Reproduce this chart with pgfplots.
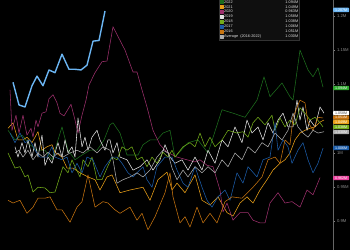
\documentclass[border=0pt]{standalone}
\usepackage{fontspec}
\setmainfont{Liberation Sans}
\usepackage{pgfplots}
\pgfplotsset{compat=1.18}
\definecolor{c23}{HTML}{6BB5F2}
\definecolor{c22}{HTML}{1D6E1D}
\definecolor{c21}{HTML}{EAA018}
\definecolor{c20}{HTML}{9E306D}
\definecolor{c20b}{HTML}{E8409C}
\definecolor{c19}{HTML}{E4E4E4}
\definecolor{c18}{HTML}{74AE1A}
\definecolor{c17}{HTML}{1C5CA8}
\definecolor{c16}{HTML}{C8740F}
\definecolor{cavg}{HTML}{ADADAD}
\definecolor{c22b}{HTML}{2EA82E}
\tikzset{valbox/.style={anchor=west, font=\fontsize{3.6}{4}\selectfont, inner sep=0.4pt,
    minimum height=4.4pt, minimum width=16pt, rounded corners=0.8pt}}
\begin{document}
\begin{tikzpicture}
\useasboundingbox (0,0) rectangle (350pt,250pt);
\fill[black] (0,0) rectangle (350pt,250pt);
\clip (0,0) rectangle (350pt,250pt);
\begin{axis}[at={(0pt,0pt)}, anchor=south west, scale only axis,
  width=333pt, height=250pt,
  xmin=0, xmax=333, ymin=0.8585, ymax=1.223,
  axis x line=none, xtick=\empty,
  axis y line*=right,
  y axis line style={draw=black!60!white, line width=0.5pt},
  ytick={0.9,0.95,1,1.1,1.15,1.2},
  yticklabels={0.9M,0.95M,1M,1.1M,1.15M,1.2M},
  yticklabel style={font=\fontsize{4.2}{5}\selectfont, text=black!45!white, xshift=-1.5pt},
  tick align=outside, major tick length=2pt,
  tick style={draw=black!50!white, line width=0.4pt},
  clip=false,
  legend style={at={(0.6577,0.84)}, anchor=south west,
    fill=black!94!white, draw=black!80!white, line width=0.3pt,
    font=\fontsize{3.8}{4.4}\selectfont, text=white!88!black,
    row sep=0.2pt, inner sep=1pt,
    nodes={inner sep=0.45pt, text height=2.9pt, text depth=0.9pt}},
  legend cell align=left,
  legend image code/.code={\fill[#1] (0pt,-1.5pt) rectangle (3pt,1.5pt);},
  every axis plot/.append style={line width=0.55pt, line join=round, mark=none},
]
% 2022
\addplot[color=c22] coordinates {(8,1.033)(15,1.019)(22,1.026)(30,1.012)(37,1.004)(45,1.004)(52,0.990)(58,1.019)(62,1.038)(68,1.004)(75,0.990)(82,0.997)(90,1.004)(97,1.004)(104,1.019)(110,1.041)(113,1.044)(120,1.029)(127,0.997)(138,0.997)(143,1.012)(150,1.019)(157,1.019)(163,1.029)(170,1.033)(175,0.994)(188,1.015)(198,1.019)(208,1.000)(222,1.063)(233,1.058)(245,1.052)(257,1.077)(264,1.111)(270,1.082)(282,1.102)(290,1.082)(293,1.077)(300,1.150)(308,1.121)(313,1.111)(318,1.124)(323,1.096)};
\addlegendentry{\makebox[56pt][l]{2022}\makebox[18pt][r]{1.094M}}
% 2021
\addplot[color=c21] coordinates {(8,1.036)(13,1.044)(18,1.019)(23,1.019)(27,1.023)(32,1.015)(38,1.031)(42,1.004)(47,1.009)(52,1.012)(55,1.001)(62,0.994)(67,0.978)(73,0.978)(80,0.971)(88,0.965)(95,0.961)(100,0.946)(107,0.965)(112,0.968)(120,0.942)(130,0.946)(143,0.950)(150,0.931)(158,0.961)(167,0.972)(172,0.946)(177,0.956)(185,0.942)(195,0.968)(202,0.931)(210,0.924)(218,0.936)(227,0.913)(233,0.908)(240,0.927)(247,0.936)(253,0.927)(260,0.946)(267,0.961)(273,0.975)(280,0.985)(285,0.990)(290,1.000)(295,1.019)(300,1.029)(305,1.033)(310,1.036)(315,1.038)(320,1.045)(324,1.048)};
\addlegendentry{\makebox[56pt][l]{2021}\makebox[18pt][r]{1.049M}}
% 2020
\addplot[color=c20] coordinates {(10,1.092)(12,1.033)(16,1.055)(19,1.029)(23,1.055)(27,1.026)(31,1.036)(33,1.023)(36,1.048)(38,1.038)(42,1.058)(46,1.060)(49,1.079)(53,1.085)(57,1.073)(60,1.058)(64,1.054)(71,1.071)(75,1.048)(78,1.029)(82,1.055)(86,1.077)(89,1.099)(95,1.117)(102,1.133)(107,1.134)(113,1.184)(125,1.150)(133,1.118)(137,1.118)(142,1.092)(147,1.067)(153,1.033)(160,1.012)(167,1.001)(177,0.994)(187,0.990)(195,0.987)(200,0.990)(207,0.982)(213,0.980)(220,0.946)(223,0.914)(227,0.927)(233,0.902)(240,0.913)(248,0.913)(253,0.902)(260,0.898)(265,0.898)(270,0.927)(278,0.942)(285,0.927)(292,0.929)(300,0.921)(307,0.946)(313,0.939)(320,0.964)};
\addlegendentry{\makebox[56pt][l]{2020}\makebox[18pt][r]{0.963M}}
% 2019
\addplot[color=c19] coordinates {(15,1.009)(18,0.994)(22,1.015)(25,1.000)(28,1.019)(32,0.994)(35,1.015)(38,0.994)(42,1.026)(45,0.982)(48,0.994)(52,0.985)(55,1.000)(58,1.015)(62,0.994)(65,1.019)(68,1.000)(72,1.009)(75,0.994)(78,1.051)(82,1.009)(85,1.023)(88,1.004)(92,1.023)(97,1.033)(100,1.019)(105,1.004)(108,1.019)(110,1.019)(113,1.000)(117,1.015)(120,0.994)(127,0.990)(133,0.975)(140,0.980)(147,0.990)(153,0.975)(160,0.990)(165,1.012)(170,0.994)(175,0.985)(182,0.990)(188,0.975)(195,0.994)(202,0.975)(208,1.004)(215,0.985)(222,1.019)(228,1.009)(235,1.038)(242,1.015)(247,1.048)(252,1.029)(258,1.038)(263,1.019)(268,1.044)(273,1.029)(278,1.048)(283,1.058)(288,1.038)(293,1.038)(297,1.077)(300,1.048)(303,1.067)(307,1.033)(310,1.048)(315,1.038)(320,1.067)(324,1.058)};
\addlegendentry{\makebox[56pt][l]{2019}\makebox[18pt][r]{1.058M}}
% 2018
\addplot[color=c18] coordinates {(8,1.000)(15,0.978)(20,0.980)(25,0.965)(28,0.968)(33,0.943)(38,0.950)(45,0.949)(50,0.942)(55,0.943)(63,0.980)(68,0.971)(72,0.990)(75,0.980)(80,0.965)(83,0.990)(88,0.980)(92,0.994)(97,0.961)(102,0.961)(107,0.978)(112,0.994)(117,0.990)(122,1.009)(127,1.004)(132,1.009)(137,0.990)(142,0.994)(147,0.980)(152,0.994)(157,0.985)(163,1.001)(168,0.994)(172,1.004)(175,0.994)(183,1.009)(190,1.015)(195,1.009)(200,1.029)(205,1.009)(210,1.023)(215,1.009)(222,1.019)(228,1.033)(237,1.029)(243,1.031)(248,1.023)(253,1.044)(258,1.052)(265,1.041)(272,1.055)(275,1.033)(280,1.051)(285,1.038)(290,1.048)(295,1.041)(300,1.066)(305,1.058)(310,1.048)(315,1.052)(320,1.044)(323,1.038)};
\addlegendentry{\makebox[56pt][l]{2018}\makebox[18pt][r]{1.038M}}
% 2017
\addplot[color=c17] coordinates {(10,1.029)(15,1.015)(20,1.029)(25,1.015)(30,1.019)(35,1.004)(40,0.994)(47,0.994)(52,1.009)(55,0.994)(62,0.990)(67,0.994)(72,0.971)(77,0.985)(82,0.971)(87,0.994)(93,0.990)(100,0.965)(105,0.980)(112,0.994)(117,0.994)(122,0.985)(128,0.971)(133,0.965)(143,0.980)(147,0.961)(152,0.950)(157,0.980)(165,0.994)(172,0.994)(177,0.975)(183,0.956)(188,0.950)(195,0.980)(202,0.950)(207,0.931)(212,0.921)(218,0.936)(225,0.946)(230,0.931)(237,0.971)(243,0.956)(248,0.980)(257,0.965)(263,0.990)(270,0.994)(275,1.044)(278,1.004)(283,1.019)(288,1.009)(292,0.985)(298,1.004)(303,1.015)(308,0.990)(313,0.971)(318,0.985)(323,1.007)};
\addlegendentry{\makebox[56pt][l]{2017}\makebox[18pt][r]{1.006M}}
% 2016
\addplot[color=c16] coordinates {(8,0.931)(13,0.927)(20,0.931)(27,0.912)(33,0.921)(38,0.934)(45,0.934)(50,0.936)(57,0.917)(62,0.917)(70,0.899)(77,0.921)(82,0.929)(88,0.968)(95,0.921)(103,0.929)(108,0.927)(115,0.917)(120,0.912)(130,0.921)(137,0.902)(142,0.912)(148,0.888)(155,0.907)(165,0.942)(170,0.971)(173,0.936)(180,0.898)(185,0.907)(190,0.892)(197,0.921)(203,0.898)(210,0.912)(217,0.898)(225,0.929)(232,0.936)(242,0.934)(253,0.950)(262,0.965)(268,0.990)(275,0.994)(280,0.985)(285,1.019)(290,1.012)(293,1.052)(300,1.077)(305,1.073)(308,1.045)(313,1.033)(318,1.052)(323,1.051)};
\addlegendentry{\makebox[56pt][l]{2016}\makebox[18pt][r]{1.051M}}
% Average
\addplot[color=cavg] coordinates {(15,1.000)(19,1.004)(23,0.994)(28,1.004)(33,0.990)(38,1.000)(43,0.994)(48,1.001)(53,0.994)(58,1.000)(63,0.994)(70,1.000)(77,1.004)(83,1.000)(90,1.009)(97,1.000)(103,1.009)(110,1.004)(113,0.990)(117,0.956)(123,0.961)(130,0.965)(137,0.971)(143,0.965)(150,0.975)(157,0.994)(163,1.004)(168,1.000)(172,0.978)(177,0.961)(183,0.975)(188,0.965)(195,0.980)(202,0.971)(208,0.980)(215,0.971)(222,0.990)(228,0.980)(235,1.000)(242,0.990)(248,1.009)(255,1.000)(262,1.015)(268,1.009)(275,1.029)(282,1.019)(288,1.033)(293,1.058)(298,1.038)(303,1.029)(308,1.023)(313,1.033)(318,1.029)(324,1.031)};
\addlegendentry{\makebox[56pt][l]{Average \ (2016-2022)}\makebox[18pt][r]{1.030M}}
% 2023
\addplot[color=c23, line width=1.4pt, forget plot] coordinates {(13,1.103)(19,1.070)(25,1.067)(32,1.098)(37,1.112)(43,1.098)(49,1.121)(55,1.117)(62,1.144)(69,1.122)(75,1.122)(81,1.121)(87,1.128)(93,1.163)(99,1.164)(105,1.207)};
% value boxes
\node[valbox, fill=c23, text=white] at (axis cs:333,1.2085) {1.207M};
\node[valbox, fill=c22b, text=white] at (axis cs:333,1.0947) {1.094M};
\node[valbox, fill=white, text=black!70!white] at (axis cs:333,1.0583) {1.058M};
\node[valbox, fill=c16, text=white] at (axis cs:333,1.0517) {1.051M};
\node[valbox, fill=c21, text=white] at (axis cs:333,1.0452) {1.049M};
\node[valbox, fill=c18, text=white] at (axis cs:333,1.0379) {1.038M};
\node[valbox, fill=cavg, text=white] at (axis cs:333,1.0306) {1.030M};
\node[valbox, fill=c17, text=white] at (axis cs:333,1.0073) {1.006M};
\node[valbox, fill=c20b, text=white] at (axis cs:333,0.9635) {0.962M};
\end{axis}
\end{tikzpicture}
\end{document}
